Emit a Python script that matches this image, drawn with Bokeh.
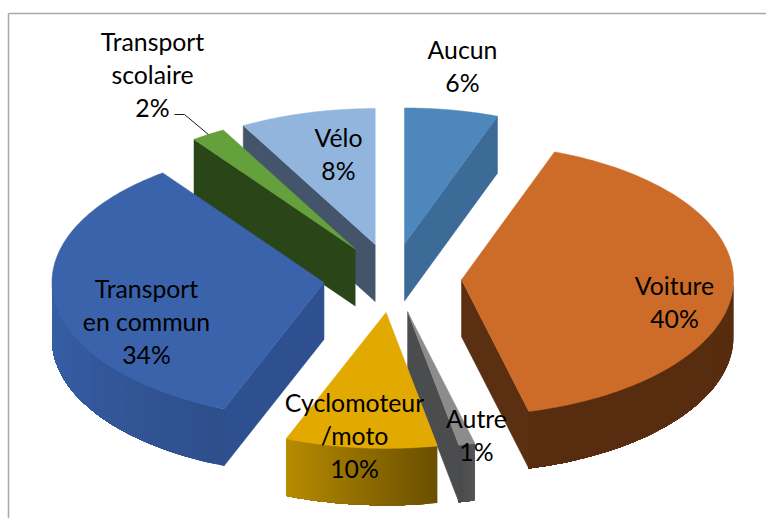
import numpy as np
from bokeh.plotting import figure
from bokeh.embed import file_html
from bokeh.resources import INLINE
from bokeh.core.properties import value

categories = ["Aucun", "Voiture", "Autre", "Cyclomoteur/moto", "Transport en commun", "Transport scolaire", "Vélo"]
values = [6, 40, 1, 10, 34, 2, 8]
label_lines = [["Aucun", "6%"], ["Voiture", "40%"], ["Autre", "1%"], ["Cyclomoteur", "/moto", "10%"],
               ["Transport", "en commun", "34%"], ["Transport", "scolaire", "2%"], ["Vélo", "8%"]]
top_colors = ["#4d87bc", "#cd6c28", "#8c8c8c", "#e2a900", "#3a63ac", "#64a03c", "#92b5de"]
side_start = ["#3f6f9c", "#582c0f", "#555555", "#6a5000", "#2e4f8c", "#2a4517", "#44546a"]
side_end = ["#3f6f9c", "#582c0f", "#4a4c4e", "#b78a00", "#3860a8", "#2a4517", "#44546a"]
cut_colors = ["#3c6b98", "#5a2f12", "#4a4c4e", "#6a5000", "#2e5090", "#2a4517", "#44546a"]
label_x = [462, 674, 476, 354, 146, 152, 338]
label_y = [49, 285, 418, 402, 288, 41, 137]
LINE_H = 33
draw_order = [6, 5, 0, 4, 1, 2, 3]
# the reference's 3D perspective moves each slice boundary a little, degrees
edge_shift_deg = [-1.4, 1.7, 1.6, -1.6, -0.7, -0.5, 0.0]

CX, CY, RX, RY, EXPLODE, DEPTH = 392, 277.5, 272, 136, 0.254, 57

p = figure(width=766, height=518, x_range=(0, 766), y_range=(518, 0), toolbar_location=None,
           output_backend="svg", min_border=0, outline_line_color=None, background_fill_color="white")
p.axis.visible = False
p.grid.visible = False

share = np.array(values, float) / sum(values) * 2 * np.pi
ends = np.cumsum(share) + np.radians(edge_shift_deg)
starts = np.concatenate(([0.0], ends[:-1]))


def rim(t, ax, ay):
    return ax + RX * np.sin(t), ay - RY * np.cos(t)


def mix(c1, c2, f):
    a = [int(c1[i:i + 2], 16) for i in (1, 3, 5)]
    b = [int(c2[i:i + 2], 16) for i in (1, 3, 5)]
    return "#%02x%02x%02x" % tuple(int(round(u + (v - u) * f)) for u, v in zip(a, b))


for i in draw_order:
    t0, t1 = starts[i], ends[i]
    mid = (t0 + t1) / 2
    ax = CX + EXPLODE * RX * np.sin(mid)
    ay = CY - EXPLODE * RY * np.cos(mid)
    # radial cut faces turned towards the viewer
    for t, normal in ((t0, t0 - np.pi / 2), (t1, t1 + np.pi / 2)):
        if np.cos(normal) < -1e-6:
            rx_, ry_ = rim(t, ax, ay)
            xs = [ax, rx_, rx_, ax]
            ys = [ay, ry_, ry_ + DEPTH, ay + DEPTH]
            p.patch(xs, ys, fill_color=cut_colors[i], line_color=cut_colors[i], line_width=0.5)
    # outer wall: each band runs to the end of the wall, the next one paints over it
    lo, hi = max(t0, np.pi / 2), min(t1, 3 * np.pi / 2)
    if hi > lo:
        n = 40
        edges = np.linspace(lo, hi, n + 1)
        pxs, pys, cols = [], [], []
        for k in range(n):
            arc = np.linspace(edges[k], hi, n + 1 - k)
            xa, ya = rim(arc, ax, ay)
            pxs.append([*xa, *xa[::-1]])
            pys.append([*ya, *(ya[::-1] + DEPTH)])
            cols.append(mix(side_start[i], side_end[i], k / (n - 1)))
        p.patches(pxs, pys, fill_color=cols, line_color=None)
    # top face
    arc = np.linspace(t0, t1, 120)
    xr, yr = rim(arc, ax, ay)
    p.patch([ax, *xr], [ay, *yr], fill_color=top_colors[i], line_color=top_colors[i], line_width=0.5)

# leader line of the small slice
i = categories.index("Transport scolaire")
mid = (starts[i] + ends[i]) / 2
ax = CX + EXPLODE * RX * np.sin(mid)
ay = CY - EXPLODE * RY * np.cos(mid)
tipx, tipy = rim(mid, ax, ay)
p.line([174, 184, tipx], [114, 114, tipy], line_color="#1a1a1a", line_width=1)

# chart border
p.line([8, 8], [13, 518], line_color="#a9a9a9", line_width=1.5)
p.line([8, 766], [13, 13], line_color="#a9a9a9", line_width=1.5)

tx, ty, tt = [], [], []
for lines, x, y in zip(label_lines, label_x, label_y):
    for n, s in enumerate(lines):
        tx.append(x)
        ty.append(y + n * LINE_H)
        tt.append(s)
p.text(tx, ty, text=tt, text_font=value("Lato"), text_font_size="24.8px", text_color="#000000",
       text_align="center", text_baseline="middle")

open("out.html", "w").write(file_html(p, INLINE))
